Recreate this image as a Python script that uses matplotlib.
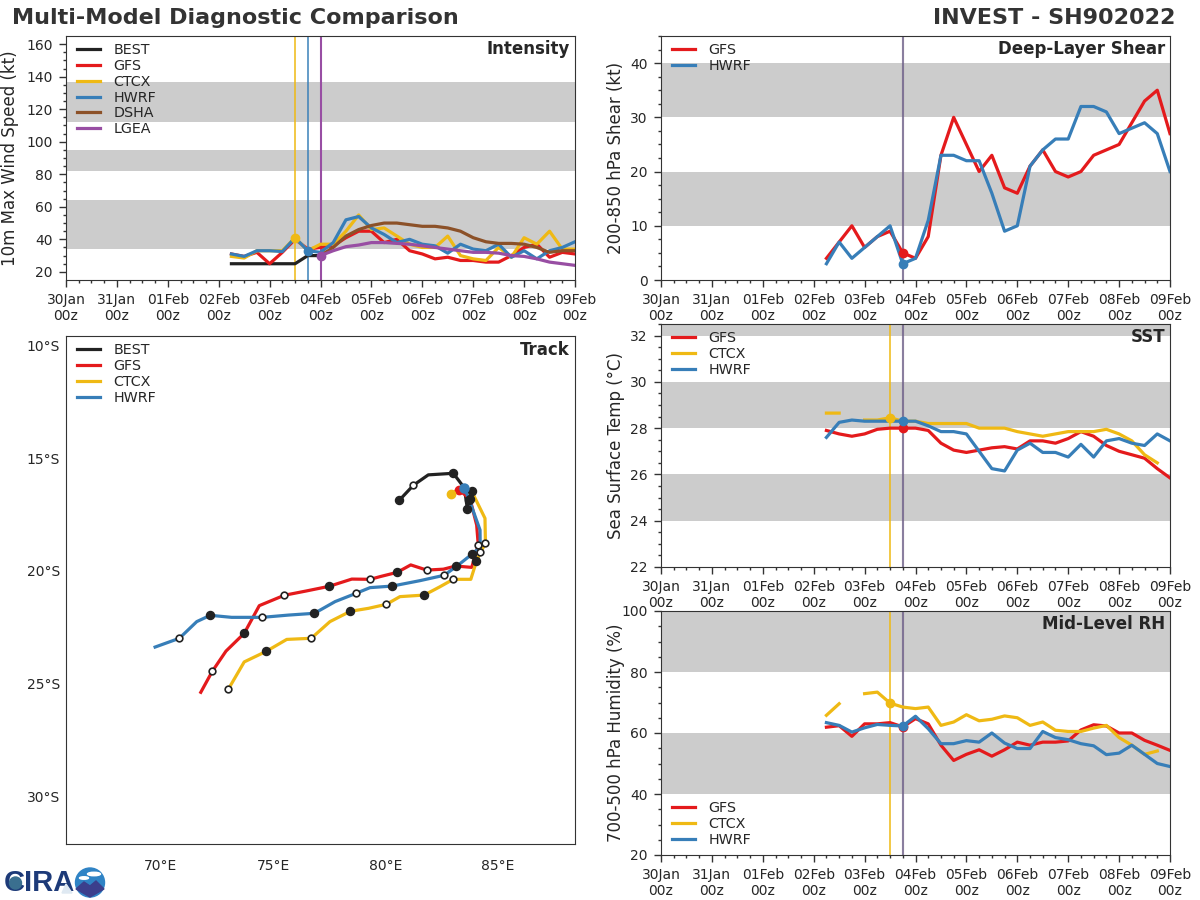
#Multi-model diagnostic comparison for INVEST SH902022
import numpy as np
import matplotlib
matplotlib.use('Agg')
import matplotlib.pyplot as plt
from matplotlib.patches import Circle, Ellipse, Polygon

nan = np.nan

#Time axis, days since 30Jan 00z, one value every 6 hours from 02Feb 06z
days = [3.25 + 0.25 * i for i in range(28)]
tick_days = list(range(11))
tick_labels = ['30Jan\n00z', '31Jan\n00z', '01Feb\n00z', '02Feb\n00z', '03Feb\n00z', '04Feb\n00z',
               '05Feb\n00z', '06Feb\n00z', '07Feb\n00z', '08Feb\n00z', '09Feb\n00z']

#Intensity (kt)
best_vmax = [25, 25, 25, 25, 25, 25, 30, 30] + [nan] * 20
gfs_vmax = [31, 29.5, 32, 25, 32, 40, 34, 35, 36, 41, 45, 45, 38, 40, 33, 31, 28, 29, 27, 27, 26, 26, 30, 35, 37, 29, 32, 31]
ctcx_vmax = [29.5, 28.5, 33, 33, 33, 41, 33, 37, 37, 45, 55, 46, 47, 42, 37, 35, 35, 42, 30, 28, 27, 35, 29, 41, 37, 45, 34, 34]
hwrf_vmax = [31, 29.5, 33, 33, 32.5, 41, 33, 32, 38, 52, 54, 47, 43, 38, 40, 37, 36, 31.5, 37, 34, 33, 37, 29, 33, 28, 33, 35, 38.5]
dsha_vmax = [nan] * 7 + [30, 35, 42, 46, 48.5, 50, 50, 49, 48, 48, 47, 45, 41, 38.5, 37.5, 37.5, 37, 35, 32, 33, 33]
lgea_vmax = [nan] * 7 + [30, 33, 35.5, 36.5, 38, 38, 37.5, 37, 36, 35, 34, 33, 32, 32, 31.5, 30, 29.5, 28, 26, 25, 24]

#Deep-layer shear (kt)
gfs_shear = [4, 7, 10, 6, 8, 9, 5, 4, 8, 23, 30, 25, 20, 23, 17, 16, 21, 24, 20, 19, 20, 23, 24, 25, 29, 33, 35, 27]
hwrf_shear = [3, 7, 4, 6, 8, 10, 3, 4, 11, 23, 23, 22, 22, 16, 9, 10, 21, 24, 26, 26, 32, 32, 31, 27, 28, 29, 27, 20]

#SST (C)
gfs_sst = [27.9, 27.75, 27.65, 27.75, 27.95, 28, 28, 28, 27.9, 27.35, 27.05, 26.95, 27.05, 27.15, 27.2, 27.1, 27.45, 27.45, 27.35, 27.55, 27.85, 27.65, 27.25, 27, 26.85, 26.7, 26.25, 25.85]
ctcx_sst = [28.65, 28.65, nan, 28.35, 28.35, 28.45, 28.3, 28.3, 28.2, 28.2, 28.2, 28.2, 28, 28, 28, 27.85, 27.75, 27.65, 27.75, 27.85, 27.85, 27.85, 27.95, 27.75, 27.45, 26.85, 26.5, nan]
hwrf_sst = [27.6, 28.25, 28.35, 28.3, 28.3, 28.3, 28.3, 28.3, 28.1, 27.85, 27.85, 27.75, 27, 26.25, 26.15, 27.05, 27.35, 26.95, 26.95, 26.75, 27.3, 26.75, 27.45, 27.55, 27.35, 27.25, 27.75, 27.45]

#Mid-level humidity (%)
gfs_rh = [61.9, 62.4, 58.9, 63, 63, 63.4, 62, 64.7, 63, 56, 51, 53, 54.5, 52.4, 54.5, 57, 56, 57, 57, 57.4, 61, 62.7, 62.3, 60, 60, 57.6, 56, 54.3]
ctcx_rh = [65.8, 69.6, nan, 72.9, 73.4, 69.8, 68.5, 68, 68.5, 62.5, 63.6, 66, 64, 64.5, 65.6, 65, 62.5, 63.6, 60.9, 60.5, 60.5, 61.6, 62.5, 58.5, 56, 53, 54.1, nan]
hwrf_rh = [63.4, 62.5, 60.3, 61.7, 62.8, 62.5, 62.3, 65.5, 61.4, 56.5, 56.5, 57.5, 57, 60, 56.7, 54.9, 54.9, 60.5, 58.5, 57.8, 56.5, 55.8, 52.9, 53.4, 56, 53, 50, 49]

#Tracks, one point every 6 hours
best_lon = [80.61, 81.24, 81.9, 83.01, 83.27, 83.47, 83.5, 83.64]
best_lat = [-16.86, -16.19, -15.73, -15.66, -16.0, -16.27, -16.3, -17.26]
gfs_lon = [83.28, 83.76, 84.05, 84.12, 83.83, 83.12, 82.57, 81.83, 81.12, 80.52, 79.76, 79.32, 78.5, 77.5, 76.47, 75.5, 74.39, 73.72, 72.91, 72.3, 71.79]
gfs_lat = [-16.4, -16.81, -17.96, -18.84, -19.84, -19.78, -19.92, -19.96, -19.73, -20.06, -20.25, -20.37, -20.36, -20.68, -20.89, -21.08, -21.54, -22.77, -23.56, -24.46, -25.39]
ctcx_lon = [82.92, 83.31, 83.83, 84.42, 84.44, 84.2, 84.04, 83.79, 83.01, 82.42, 81.72, 80.64, 80.04, 79.24, 78.44, 77.53, 76.7, 75.61, 74.7, 73.72, 73.01]
ctcx_lat = [-16.58, -16.32, -16.46, -17.66, -18.77, -19.21, -19.57, -20.37, -20.37, -20.7, -21.07, -21.14, -21.48, -21.66, -21.79, -22.25, -22.99, -23.04, -23.57, -24.04, -25.26]
hwrf_lon = [83.5, 83.72, 84.2, 84.21, 84.05, 83.83, 83.24, 82.61, 81.53, 80.3, 79.31, 78.7, 77.76, 76.84, 75.68, 74.52, 73.16, 72.21, 71.61, 70.84, 69.76]
hwrf_lat = [-16.3, -16.84, -18.18, -19.17, -19.07, -19.26, -19.73, -20.19, -20.43, -20.67, -20.74, -20.99, -21.36, -21.88, -21.96, -22.06, -22.06, -21.97, -22.25, -22.99, -23.38]

#Colours
black = '#222222'
red = '#e41a1c'
yellow = '#efb914'
blue = '#377eb8'
brown = '#8c5128'
purple = '#984ea3'
band = '#cccccc'
ink = '#262626'

W, H = 1200, 900
fig = plt.figure(figsize=(12, 9), dpi=100)
plt.rcParams['axes.edgecolor'] = '#333333'
plt.rcParams['xtick.color'] = '#333333'
plt.rcParams['ytick.color'] = '#333333'


def panel(left, top, right, bottom):
    #axes from pixel edges
    return fig.add_axes([left / W, 1 - bottom / H, (right - left) / W, (bottom - top) / H])


def time_axis(ax, ylim, yticks, yminor, bands, ylabel, label_px, title):
    ax.set_xlim(0, 10)
    ax.set_ylim(*ylim)
    for low, high in bands:
        ax.axhspan(low, high, color=band, lw=0, zorder=0)
    ax.set_xticks(tick_days)
    ax.set_xticklabels(tick_labels)
    ax.set_xticks(np.arange(0, 10.01, 0.25), minor=True)
    ax.set_yticks(yticks)
    ax.set_yticks(yminor, minor=True)
    ax.tick_params(axis='both', which='major', length=5, width=1, labelsize=10, labelcolor=ink, pad=4.5)
    ax.tick_params(axis='both', which='minor', length=2.5, width=1)
    ax.set_ylabel(ylabel, fontsize=12, color=ink)
    ax.yaxis.set_label_coords(-label_px / 509, 0.5)
    ax.text(0.99, 0.985, title, transform=ax.transAxes, ha='right', va='top', fontsize=12, fontweight='bold', color=ink)


def legend(ax, height, loc='upper left'):
    #anchor sits a few pixels in from the panel corner
    y = 1 - 7 / height if loc == 'upper left' else 8 / height
    ax.legend(loc=loc, bbox_to_anchor=(11 / 509, y), frameon=False, fontsize=10.3, labelspacing=0.13,
              handlelength=1.6, handletextpad=0.95, borderpad=0, borderaxespad=0, labelcolor=ink)


def vlines(ax, items):
    for x, c, lw, a in items:
        ax.axvline(x, color=c, lw=lw, alpha=a, zorder=1.5)


def now_dot(ax, series, idx, c):
    ax.plot(days[idx], series[idx], 'o', color=c, ms=6, zorder=6)


LW = 2.3
both_now = [(4.75, red, 1.5, 0.55), (4.75, blue, 1.5, 0.55)]

#Intensity panel
ax1 = panel(66, 36, 575, 280)
time_axis(ax1, (15, 165), np.arange(20, 161, 20), np.arange(20, 161, 5),
          [(34, 64), (82, 95), (112, 136.5)], '10m Max Wind Speed (kt)', 47, 'Intensity')
ax1.plot(days, best_vmax, color=black, lw=LW, label='BEST')
ax1.plot(days, gfs_vmax, color=red, lw=LW, label='GFS')
ax1.plot(days, ctcx_vmax, color=yellow, lw=LW, label='CTCX')
ax1.plot(days, hwrf_vmax, color=blue, lw=LW, label='HWRF')
ax1.plot(days, dsha_vmax, color=brown, lw=LW, label='DSHA')
ax1.plot(days, lgea_vmax, color=purple, lw=LW, label='LGEA')
vlines(ax1, [(4.5, yellow, 1.1, 1), (4.75, blue, 1.2, 0.9), (5, purple, 1.5, 1)])
now_dot(ax1, ctcx_vmax, 5, yellow)
now_dot(ax1, hwrf_vmax, 6, blue)
now_dot(ax1, lgea_vmax, 7, purple)
legend(ax1, 244)

#Shear panel
ax2 = panel(661, 36, 1170, 280)
time_axis(ax2, (0, 45), np.arange(0, 41, 10), np.arange(0, 45.1, 2.5),
          [(10, 20), (30, 40)], '200-850 hPa Shear (kt)', 36, 'Deep-Layer Shear')
ax2.plot(days, gfs_shear, color=red, lw=LW, label='GFS')
ax2.plot(days, hwrf_shear, color=blue, lw=LW, label='HWRF')
vlines(ax2, both_now)
now_dot(ax2, gfs_shear, 6, red)
now_dot(ax2, hwrf_shear, 6, blue)
legend(ax2, 244)

#SST panel
ax3 = panel(661, 324, 1170, 567)
time_axis(ax3, (22, 32.5), np.arange(22, 33, 2), np.arange(22, 32.6, 0.5),
          [(24, 26), (28, 30), (32, 33)], 'Sea Surface Temp (°C)', 36, 'SST')
ax3.plot(days, gfs_sst, color=red, lw=LW, label='GFS')
ax3.plot(days, ctcx_sst, color=yellow, lw=LW, label='CTCX')
ax3.plot(days, hwrf_sst, color=blue, lw=LW, label='HWRF')
vlines(ax3, [(4.5, yellow, 1.1, 1)] + both_now)
now_dot(ax3, ctcx_sst, 5, yellow)
now_dot(ax3, gfs_sst, 6, red)
now_dot(ax3, hwrf_sst, 6, blue)
legend(ax3, 243)

#Humidity panel
ax4 = panel(661, 611, 1170, 855)
time_axis(ax4, (20, 100), np.arange(20, 101, 20), np.arange(20, 101, 5),
          [(40, 60), (80, 100)], '700-500 hPa Humidity (%)', 36, 'Mid-Level RH')
ax4.plot(days, gfs_rh, color=red, lw=LW, label='GFS')
ax4.plot(days, ctcx_rh, color=yellow, lw=LW, label='CTCX')
ax4.plot(days, hwrf_rh, color=blue, lw=LW, label='HWRF')
vlines(ax4, [(4.5, yellow, 1.1, 1)] + both_now)
now_dot(ax4, ctcx_rh, 5, yellow)
now_dot(ax4, gfs_rh, 6, red)
now_dot(ax4, hwrf_rh, 6, blue)
legend(ax4, 244, 'lower left')

#Track panel
ax5 = panel(66, 336, 575, 844)
ax5.set_xlim(65.8, 88.42)
ax5.set_ylim(-32.13, -9.56)
ax5.plot(best_lon, best_lat, color=black, lw=LW, label='BEST')
ax5.plot(gfs_lon, gfs_lat, color=red, lw=LW, label='GFS')
ax5.plot(ctcx_lon, ctcx_lat, color=yellow, lw=LW, label='CTCX')
ax5.plot(hwrf_lon, hwrf_lat, color=blue, lw=LW, label='HWRF')


def track_marks(lon, lat, filled, hollow):
    ax5.plot([lon[i] for i in filled], [lat[i] for i in filled], 'o', mfc=black, mec=black, ms=5.8, zorder=5)
    ax5.plot([lon[i] for i in hollow], [lat[i] for i in hollow], 'o', mfc='white', mec=black, mew=1.2, ms=4.8, zorder=5)


track_marks(best_lon, best_lat, [0, 3, 7], [1])
track_marks(gfs_lon, gfs_lat, [1, 5, 9, 13, 17], [3, 7, 11, 15, 19])
track_marks(hwrf_lon, hwrf_lat, [1, 5, 9, 13, 17], [3, 7, 11, 15, 19])
track_marks(ctcx_lon, ctcx_lat, [2, 6, 10, 14, 18], [4, 8, 12, 16, 20])
ax5.plot(gfs_lon[0], gfs_lat[0], 'o', color=red, ms=6, zorder=6)
ax5.plot(ctcx_lon[0], ctcx_lat[0], 'o', color=yellow, ms=6, zorder=6)
ax5.plot(hwrf_lon[0], hwrf_lat[0], 'o', color=blue, ms=6.5, zorder=6)

ax5.set_xticks([70, 75, 80, 85])
ax5.set_xticklabels(['70°E', '75°E', '80°E', '85°E'])
ax5.set_yticks([-10, -15, -20, -25, -30])
ax5.set_yticklabels(['10°S', '15°S', '20°S', '25°S', '30°S'])
ax5.tick_params(axis='x', length=0, labelsize=10, labelcolor=ink, pad=11)
ax5.tick_params(axis='y', length=0, labelsize=10, labelcolor=ink, pad=4.5)
ax5.text(0.99, 0.99, 'Track', transform=ax5.transAxes, ha='right', va='top', fontsize=12, fontweight='bold', color=ink)
legend(ax5, 508)

#Header
fig.text(12 / W, 1 - 18 / H, 'Multi-Model Diagnostic Comparison', fontsize=16, fontweight='bold', color='#333333', va='center', ha='left')
fig.text(1175 / W, 1 - 18 / H, 'INVEST - SH902022', fontsize=16, fontweight='bold', color='#333333', va='center', ha='right')

#Logo at the bottom left
logo = fig.add_axes([0, 0, 110 / W, 40 / H])
logo.set_xlim(0, 110)
logo.set_ylim(40, 0)
logo.axis('off')
logo.text(4, 23, 'CIRA', fontsize=21, fontweight='bold', color='#1d3a78', family='Liberation Sans', va='center', ha='left')
logo.add_patch(Circle((15.5, 23), 6, color='#3a6f8f', zorder=3))
logo.add_patch(Polygon([[62, 33], [72, 33], [66, 24]], color='#dfe9f2', zorder=3))
logo.add_patch(Circle((90, 22.5), 14.5, color='#2f83c5', zorder=3))
logo.add_patch(Polygon([[76, 29], [84, 22], [90, 26], [96, 21], [104, 29], [90, 37]], color='#3b3f8c', zorder=4))
logo.add_patch(Ellipse((94, 14), 13, 3.5, color='white', zorder=5))
logo.add_patch(Ellipse((84, 18), 9, 2.5, color='white', zorder=5))

fig.savefig('out.png', dpi=100)
